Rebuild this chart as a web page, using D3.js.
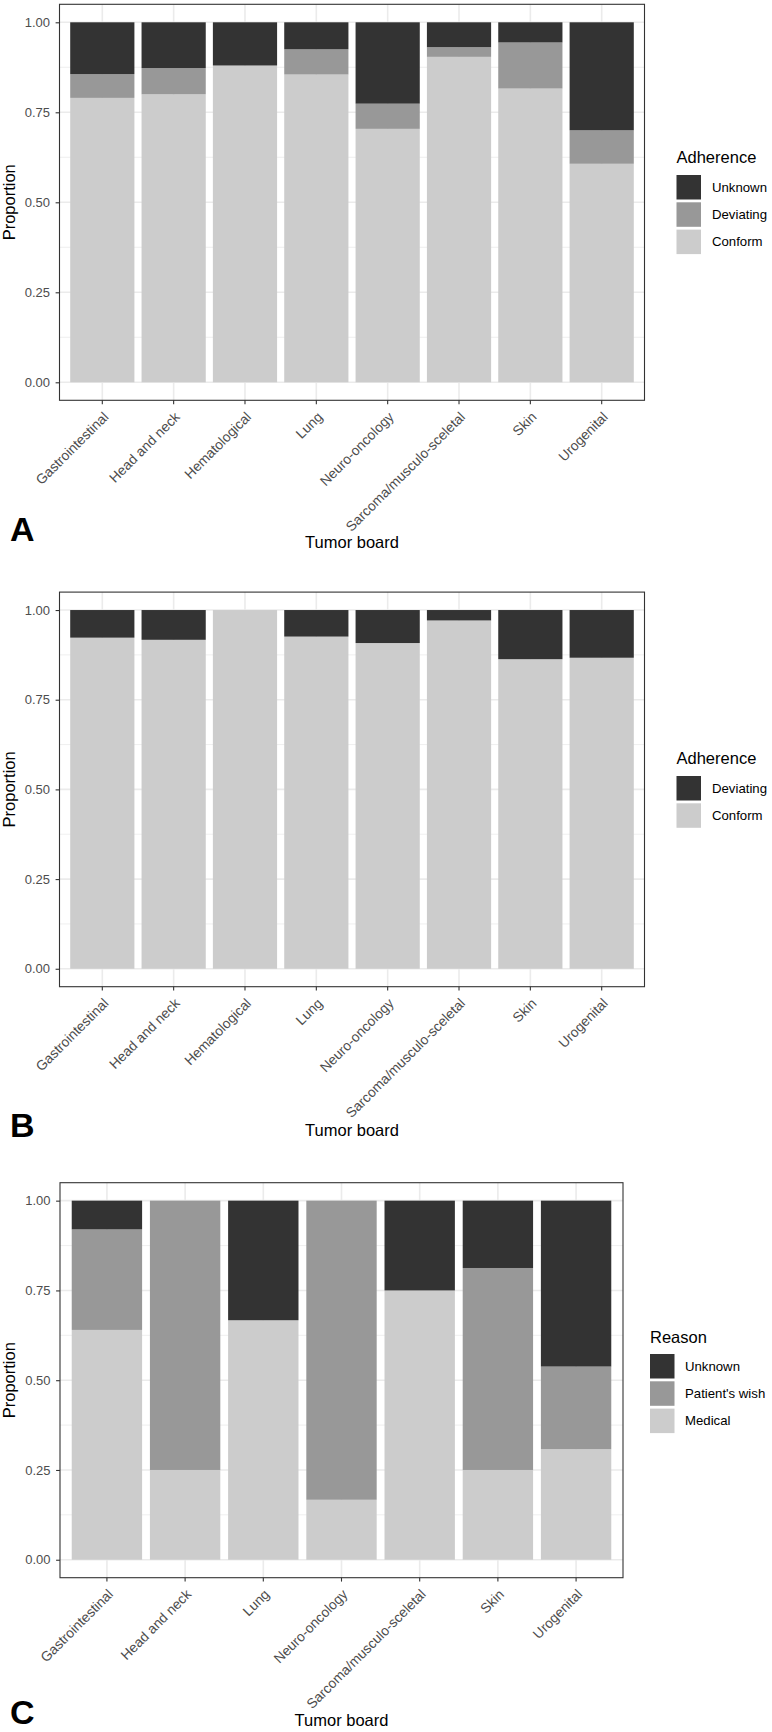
<!DOCTYPE html>
<html>
<head>
<meta charset="utf-8">
<script src="https://cdn.jsdelivr.net/npm/d3@7"></script>
<style>
  html, body { margin: 0; padding: 0; background: #ffffff; }
  svg { display: block; font-family: "Liberation Sans", Arial, Helvetica, sans-serif; }
</style>
</head>
<body>
<svg id="chart" width="772" height="1732"></svg>
<script>
// ---------------- DATA ----------------
const categoriesAB = ["Gastrointestinal", "Head and neck", "Hematological", "Lung",
  "Neuro-oncology", "Sarcoma/musculo-sceletal", "Skin", "Urogenital"];
const categoriesC = ["Gastrointestinal", "Head and neck", "Lung", "Neuro-oncology",
  "Sarcoma/musculo-sceletal", "Skin", "Urogenital"];

// Panel A: adherence (proportions)
const conformA   = [0.790, 0.800, 0.880, 0.855, 0.704, 0.904, 0.816, 0.607];
const deviatingA = [0.066, 0.073, 0.000, 0.070, 0.070, 0.027, 0.128, 0.093];
const unknownA   = [0.144, 0.127, 0.120, 0.075, 0.226, 0.069, 0.056, 0.300];

// Panel B: adherence (proportions)
const conformB   = [0.923, 0.917, 1.000, 0.926, 0.908, 0.971, 0.863, 0.867];
const deviatingB = [0.077, 0.083, 0.000, 0.074, 0.092, 0.029, 0.137, 0.133];

// Panel C: reason for deviation (proportions)
const medicalC   = [0.640, 0.250, 0.667, 0.167, 0.750, 0.250, 0.308];
const wishC      = [0.280, 0.750, 0.000, 0.833, 0.000, 0.5625, 0.230];
const unknownC   = [0.080, 0.000, 0.333, 0.000, 0.250, 0.1875, 0.462];

const yTicks = [0, 0.25, 0.5, 0.75, 1];
const yMinor = [0.125, 0.375, 0.625, 0.875];

const seriesNamesA = ["Conform", "Deviating", "Unknown"];
const seriesNamesB = ["Conform", "Deviating"];
const seriesNamesC = ["Medical", "Patient's wish", "Unknown"];

const colors3 = ["#cccccc", "#989898", "#333333"];
const colors2 = ["#cccccc", "#333333"];

// ---------------- LAYOUT ----------------
const panels = [
  { letter: "A", cats: categoriesAB, series: [conformA, deviatingA, unknownA], names: seriesNamesA,
    colors: colors3, legendTitle: "Adherence",
    left: 59.5, right: 644.5, top: 4.3, bottom: 400.3,
    legendX: 676.5, legendTitleY: 163.3, keyTop: 175, labelX: 712,
    letterY: 541, xTitleY: 548 },
  { letter: "B", cats: categoriesAB, series: [conformB, deviatingB], names: seriesNamesB,
    colors: colors2, legendTitle: "Adherence",
    left: 59.5, right: 644.5, top: 592.1, bottom: 986.7,
    legendX: 676.5, legendTitleY: 764.3, keyTop: 776, labelX: 712,
    letterY: 1137, xTitleY: 1136 },
  { letter: "C", cats: categoriesC, series: [medicalC, wishC, unknownC], names: seriesNamesC,
    colors: colors3, legendTitle: "Reason",
    left: 60, right: 623, top: 1182.7, bottom: 1577.7,
    legendX: 650, legendTitleY: 1343, keyTop: 1354, labelX: 685,
    letterY: 1724, xTitleY: 1726 }
];

const svg = d3.select("#chart");
svg.append("rect").attr("width", 772).attr("height", 1732).attr("fill", "#ffffff");

const axisTextColor = "#4d4d4d";
const darkLine = "#333333";
const gridColor = "#ebebeb";

panels.forEach(p => {
  const g = svg.append("g");

  const x = d3.scaleBand().domain(p.cats).range([p.left, p.right])
    .paddingInner(0.1).paddingOuter(0.15);
  const y = d3.scaleLinear().domain([-0.05, 1.05]).range([p.bottom, p.top]);

  // grid lines
  g.selectAll(".minor").data(yMinor).join("line")
    .attr("x1", p.left).attr("x2", p.right)
    .attr("y1", d => y(d)).attr("y2", d => y(d))
    .attr("stroke", gridColor).attr("stroke-width", 0.8);
  g.selectAll(".major").data(yTicks).join("line")
    .attr("x1", p.left).attr("x2", p.right)
    .attr("y1", d => y(d)).attr("y2", d => y(d))
    .attr("stroke", gridColor).attr("stroke-width", 1.6);
  g.selectAll(".vmajor").data(p.cats).join("line")
    .attr("x1", d => x(d) + x.bandwidth() / 2).attr("x2", d => x(d) + x.bandwidth() / 2)
    .attr("y1", p.top).attr("y2", p.bottom)
    .attr("stroke", gridColor).attr("stroke-width", 1.6);

  // stacked data
  const rows = p.cats.map((c, i) => {
    const r = { cat: c };
    p.names.forEach((nm, k) => { r[nm] = p.series[k][i]; });
    return r;
  });
  const stack = d3.stack().keys(p.names)(rows);

  stack.forEach((layer, k) => {
    g.append("g").selectAll("rect").data(layer).join("rect")
      .attr("x", d => x(d.data.cat))
      .attr("width", x.bandwidth())
      .attr("y", d => y(d[1]))
      .attr("height", d => Math.max(0, y(d[0]) - y(d[1])))
      .attr("fill", p.colors[k]);
  });

  // panel border
  g.append("rect")
    .attr("x", p.left).attr("y", p.top)
    .attr("width", p.right - p.left).attr("height", p.bottom - p.top)
    .attr("fill", "none").attr("stroke", darkLine).attr("stroke-width", 1.1);

  // y axis
  const yAxis = d3.axisLeft(y).tickValues(yTicks).tickFormat(d3.format(".2f"))
    .tickSize(3.9).tickPadding(5.6);
  const ya = g.append("g").attr("transform", `translate(${p.left},0)`).call(yAxis);
  ya.select(".domain").remove();
  ya.selectAll(".tick line").attr("stroke", darkLine).attr("stroke-width", 1.1);
  ya.selectAll(".tick text").attr("fill", axisTextColor)
    .style("font-size", "13px").style("font-family", "'Liberation Sans', Arial, sans-serif");

  // x axis
  const xAxis = d3.axisBottom(x).tickSize(3.9);
  const xa = g.append("g").attr("transform", `translate(0,${p.bottom})`).call(xAxis);
  xa.select(".domain").remove();
  xa.selectAll(".tick line").attr("stroke", darkLine).attr("stroke-width", 1.1);
  xa.selectAll(".tick text")
    .attr("y", null).attr("dy", null).attr("x", null)
    .attr("transform", "translate(7,17.5) rotate(-45)")
    .attr("text-anchor", "end")
    .attr("fill", axisTextColor)
    .style("font-size", "13.8px").style("font-family", "'Liberation Sans', Arial, sans-serif");

  // axis titles
  g.append("text")
    .attr("transform", `translate(15,${(p.top + p.bottom) / 2}) rotate(-90)`)
    .attr("text-anchor", "middle")
    .attr("font-size", 16.5).attr("fill", "#000")
    .text("Proportion");
  g.append("text")
    .attr("x", (p.left + p.right) / 2).attr("y", p.xTitleY)
    .attr("text-anchor", "middle")
    .attr("font-size", 16.5).attr("fill", "#000")
    .text("Tumor board");

  // panel letter
  g.append("text")
    .attr("x", 10).attr("y", p.letterY)
    .attr("font-size", 34).attr("font-weight", "bold").attr("fill", "#000")
    .text(p.letter);

  // legend
  const lg = g.append("g");
  lg.append("text")
    .attr("x", p.legendX).attr("y", p.legendTitleY)
    .attr("font-size", 16.5).attr("fill", "#000")
    .text(p.legendTitle);
  const legendItems = p.names.map((nm, k) => ({ name: nm, color: p.colors[k] })).reverse();
  const keyStride = 27.3, keySize = 24.5;
  legendItems.forEach((it, i) => {
    const ky = p.keyTop + i * keyStride;
    lg.append("rect")
      .attr("x", p.legendX).attr("y", ky)
      .attr("width", keySize).attr("height", keySize)
      .attr("fill", it.color);
    lg.append("text")
      .attr("x", p.labelX).attr("y", ky + keySize / 2)
      .attr("dy", "0.35em")
      .attr("font-size", 13.2).attr("fill", "#000")
      .text(it.name);
  });
});
</script>
</body>
</html>
